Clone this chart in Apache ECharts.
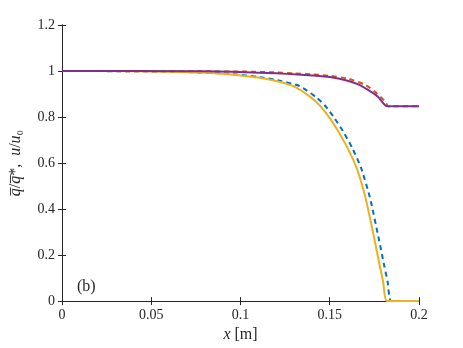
<!DOCTYPE html>
<html>
<head>
    <meta charset="utf-8">
    <title>q profile</title>
    <script src="https://cdn.jsdelivr.net/npm/echarts@6/dist/echarts.min.js"></script>
    <style>
        html, body { margin: 0; padding: 0; background: #fff; }
        #main { width: 463px; height: 348px; }
    </style>
</head>
<body>
<div id="main"></div>
<script>
    // x positions [m] and values
    var xYellow = [0, 0.04, 0.06, 0.08, 0.09, 0.1, 0.11, 0.12, 0.13, 0.14, 0.145, 0.15, 0.155, 0.16, 0.165, 0.17, 0.175, 0.178, 0.18, 0.182, 0.2];
    var yYellow = [1, 0.999, 0.997, 0.992, 0.988, 0.981, 0.972, 0.957, 0.933, 0.882, 0.845, 0.795, 0.735, 0.665, 0.58, 0.45, 0.27, 0.155, 0.08, 0, 0];

    var xBlue = [0, 0.043, 0.063, 0.083, 0.093, 0.103, 0.113, 0.123, 0.133, 0.1425, 0.1475, 0.1525, 0.1575, 0.1625, 0.1675, 0.1725, 0.1775, 0.1805, 0.1825, 0.1845, 0.2];
    var yBlue = [1, 0.999, 0.997, 0.992, 0.988, 0.981, 0.971, 0.956, 0.935, 0.885, 0.848, 0.797, 0.737, 0.667, 0.58, 0.45, 0.27, 0.155, 0.08, 0, 0];

    var xRed = [0, 0.1, 0.12, 0.13, 0.14, 0.15, 0.16, 0.17, 0.176, 0.181, 0.1828, 0.2];
    var yRed = [1, 0.998, 0.994, 0.99, 0.986, 0.979, 0.967, 0.94, 0.905, 0.868, 0.847, 0.847];

    var xPurple = [0, 0.08, 0.095, 0.11, 0.12, 0.132, 0.14, 0.15, 0.16, 0.166, 0.171, 0.177, 0.182, 0.2];
    var yPurple = [1, 0.999, 0.997, 0.993, 0.99, 0.985, 0.981, 0.974, 0.958, 0.942, 0.92, 0.888, 0.847, 0.847];

    var xTicks = [0, 0.05, 0.1, 0.15, 0.2];
    var yTicks = [0, 0.2, 0.4, 0.6, 0.8, 1, 1.2];

    function pairs(xs, ys) {
        var out = [];
        for (var i = 0; i < xs.length; i++) out.push([xs[i], ys[i]]);
        return out;
    }

    var axisColor = '#262626';
    var font = '"Liberation Serif", "Times New Roman", serif';

    var myChart = echarts.init(document.getElementById('main'));

    function lineSeries(xs, ys, color, dashed) {
        return {
            type: 'line', data: pairs(xs, ys),
            smooth: 0.2,
            showSymbol: false, silent: true,
            lineStyle: { color: color, width: 2, type: dashed ? [5, 4] : 'solid' }
        };
    }

    var option = {
        animation: false,
        backgroundColor: '#fff',
        grid: { left: 60, right: 44, top: 25, bottom: 46 },
        xAxis: [{
            type: 'value',
            min: 0, max: 0.2, interval: 0.05,
            position: 'bottom',
            name: '{i|x} [m]',
            nameLocation: 'middle',
            nameGap: 22,
            nameTextStyle: {
                fontFamily: font, fontSize: 16, color: axisColor,
                rich: { i: { fontStyle: 'italic', fontFamily: font, fontSize: 16, color: axisColor } }
            },
            axisLine: { lineStyle: { color: axisColor, width: 1 } },
            axisTick: { inside: true, length: 4, lineStyle: { color: axisColor } },
            axisLabel: {
                fontFamily: font, fontSize: 14, color: axisColor, margin: 7,
                formatter: function (v) { return xTicks.indexOf(v) >= 0 ? String(v) : ''; }
            },
            splitLine: { show: false }
        }, {
            type: 'value',
            min: 0, max: 0.2, interval: 0.05,
            position: 'top',
            axisLine: { show: true, lineStyle: { color: axisColor, width: 1 } },
            axisTick: { inside: true, length: 4, lineStyle: { color: axisColor } },
            axisLabel: { show: false },
            splitLine: { show: false }
        }],
        yAxis: [{
            type: 'value',
            min: 0, max: 1.2, interval: 0.2,
            position: 'left',
            name: '{i|q\u0305}/{i|q\u0305}*,  {i|u}/{i|u}\u2080',
            nameLocation: 'middle',
            nameGap: 38,
            nameRotate: 90,
            nameTextStyle: {
                fontFamily: font, fontSize: 16, color: axisColor,
                rich: { i: { fontStyle: 'italic', fontFamily: font, fontSize: 16, color: axisColor } }
            },
            axisLine: { show: true, lineStyle: { color: axisColor, width: 1 } },
            axisTick: { inside: true, length: 4, lineStyle: { color: axisColor } },
            axisLabel: {
                fontFamily: font, fontSize: 14, color: axisColor, margin: 7,
                formatter: function (v) { return String(Math.round(v * 10) / 10); }
            },
            splitLine: { show: false }
        }, {
            type: 'value',
            min: 0, max: 1.2, interval: 0.2,
            position: 'right',
            axisLine: { show: true, lineStyle: { color: axisColor, width: 1 } },
            axisTick: { inside: true, length: 4, lineStyle: { color: axisColor } },
            axisLabel: { show: false },
            splitLine: { show: false }
        }],
        graphic: [{
            type: 'text',
            left: 77, top: 279,
            style: { text: '(b)', font: '16px "Liberation Serif", serif', fill: axisColor }
        }],
        series: [
            lineSeries(xBlue, yBlue, '#0072BD', true),
            lineSeries(xRed, yRed, '#D95319', true),
            lineSeries(xYellow, yYellow, '#EDB120', false),
            lineSeries(xPurple, yPurple, '#7E2F8E', false)
        ]
    };

    myChart.setOption(option);
</script>
</body>
</html>
